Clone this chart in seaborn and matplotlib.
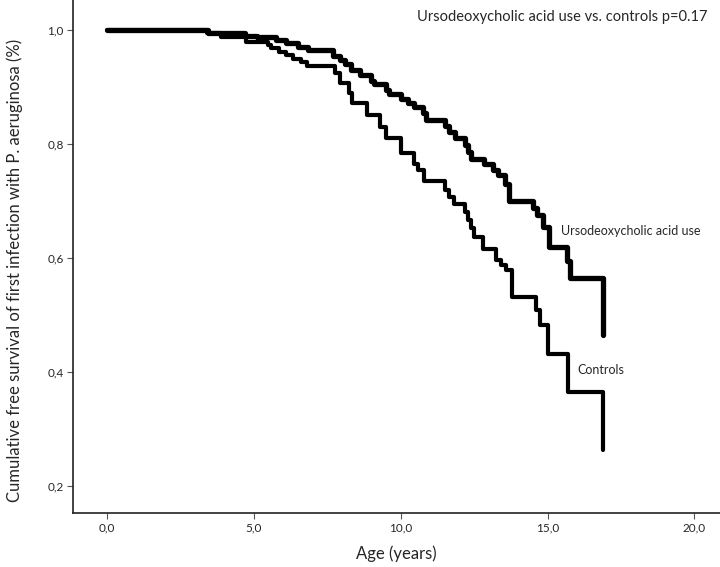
import seaborn as sns
import pandas as pd
import matplotlib.pyplot as plt
from matplotlib.ticker import FuncFormatter

# Kaplan-Meier step values (age in years, survival fraction)
udca_age = [0.0, 3.45, 4.7, 5.1, 5.75, 6.1, 6.5, 6.85, 7.7, 7.95, 8.1, 8.3, 8.6, 9.0, 9.1,
            9.5, 9.6, 10.0, 10.25, 10.45, 10.75, 10.85, 11.5, 11.65, 11.85, 12.2, 12.3,
            12.4, 12.85, 13.15, 13.3, 13.55, 13.7, 14.5, 14.65, 14.85, 15.05, 15.65,
            15.75, 16.9]
udca_surv = [1.0, 0.995, 0.99, 0.988, 0.982, 0.977, 0.971, 0.966, 0.955, 0.947, 0.94, 0.93,
             0.921, 0.91, 0.905, 0.895, 0.888, 0.88, 0.872, 0.865, 0.855, 0.842, 0.832,
             0.822, 0.81, 0.798, 0.786, 0.774, 0.765, 0.755, 0.745, 0.73, 0.70, 0.688,
             0.675, 0.655, 0.62, 0.595, 0.565, 0.465]

ctrl_age = [0.0, 3.4, 3.9, 4.75, 5.5, 5.6, 5.85, 6.1, 6.35, 6.6, 6.8, 7.75, 7.95, 8.25,
            8.35, 8.85, 9.3, 9.5, 10.0, 10.45, 10.6, 10.8, 11.5, 11.65, 11.8, 12.2, 12.3,
            12.4, 12.5, 12.8, 13.25, 13.4, 13.6, 13.8, 14.6, 14.75, 15.0, 15.7, 16.9]
ctrl_surv = [1.0, 0.995, 0.988, 0.98, 0.974, 0.968, 0.962, 0.956, 0.95, 0.944, 0.937,
             0.924, 0.907, 0.889, 0.872, 0.851, 0.83, 0.81, 0.784, 0.765, 0.754, 0.735,
             0.72, 0.707, 0.695, 0.68, 0.667, 0.652, 0.637, 0.616, 0.596, 0.588, 0.579,
             0.532, 0.509, 0.482, 0.432, 0.365, 0.262]

x_ticks = [0, 5, 10, 15, 20]
y_ticks = [0.2, 0.4, 0.6, 0.8, 1.0]

if __name__ == '__main__':
    sns.set_theme(style="ticks")
    plt.rcParams['font.family'] = ['Lato', 'DejaVu Sans']

    udca = pd.DataFrame({"age": udca_age, "surv": udca_surv})
    ctrl = pd.DataFrame({"age": ctrl_age, "surv": ctrl_surv})

    fig = plt.figure(figsize=(7.2, 5.67), dpi=100)
    ax = fig.add_axes([0.102, 0.096, 0.898, 0.904])

    sns.lineplot(data=udca, x="age", y="surv", drawstyle="steps-post", estimator=None,
                 sort=False, color="black", linewidth=3.8, ax=ax)
    sns.lineplot(data=ctrl, x="age", y="surv", drawstyle="steps-post", estimator=None,
                 sort=False, color="black", linewidth=3.0, ax=ax)

    ax.set_xlim(-1.14, 20.87)
    ax.set_ylim(0.153, 1.053)
    ax.set_xticks(x_ticks)
    ax.set_yticks(y_ticks)
    ax.xaxis.set_major_formatter(FuncFormatter(lambda v, p: f"{v:.1f}".replace(".", ",")))
    ax.yaxis.set_major_formatter(FuncFormatter(lambda v, p: f"{v:.1f}".replace(".", ",")))
    ax.tick_params(axis="both", labelsize=8.5, length=4, width=0.8, color="#555555", pad=3)
    for s in ["left", "bottom"]:
        ax.spines[s].set_linewidth(1.2)
        ax.spines[s].set_color("#222222")
    sns.despine(ax=ax)

    ax.set_xlabel("Age (years)", fontsize=12, labelpad=9)
    ax.set_ylabel("Cumulative free survival of first infection with P. aeruginosa (%)",
                  fontsize=12.0)
    ax.yaxis.set_label_coords(-0.078, 0.473)

    ax.text(0.98, 0.98, "Ursodeoxycholic acid use vs. controls p=0.17", transform=ax.transAxes,
            ha="right", va="top", fontsize=10.5)
    ax.text(15.45, 0.647, "Ursodeoxycholic acid use", fontsize=9, va="center")
    ax.text(16.0, 0.404, "Controls", fontsize=9, va="center")

    plt.savefig("out.png", dpi=100)
